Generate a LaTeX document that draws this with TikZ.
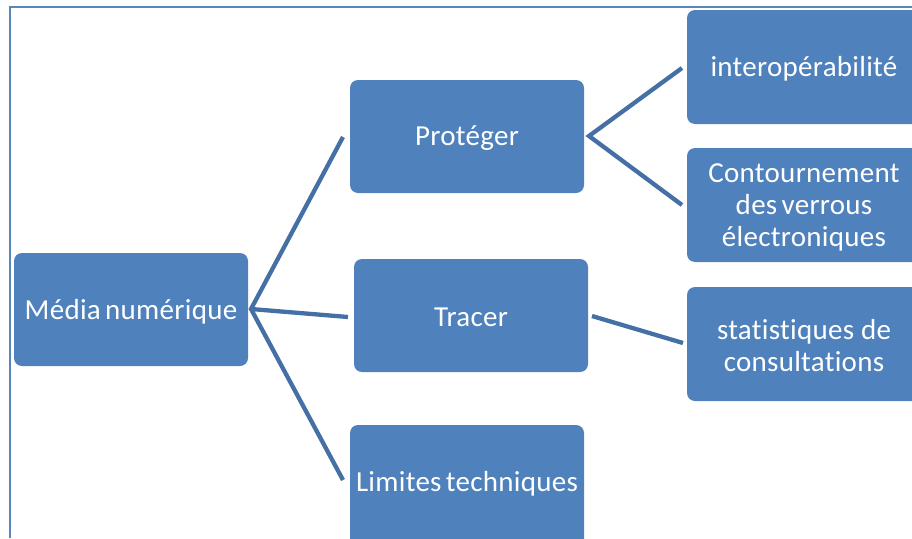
\documentclass[tikz,border=0pt]{standalone}
\usepackage{fontspec}
\setmainfont{Carlito}[Ligatures=NoCommon,LetterSpace=1]
\begin{document}
\definecolor{boxblue}{HTML}{4F81BD}
\definecolor{linkblue}{HTML}{4470A6}
\definecolor{frameblue}{HTML}{5B86BA}
\newcommand{\tightsp}{\spaceskip=0.15em plus 0.05em\relax}
\begin{tikzpicture}[x=1pt,y=-1pt,
  box/.style={draw=none,fill=boxblue,rounded corners=8pt},
  label/.style={text=white,align=center,inner sep=0pt,
    font=\fontsize{29}{32}\selectfont},
  link/.style={draw=linkblue,line width=4.3pt}]
\useasboundingbox (0,0) rectangle (912,538);
% frame
\draw[frameblue,line width=2pt] (10,538) -- (10,7) -- (912,7);
% boxes
\path[box] (14,253) rectangle (248,366);
\node[label] (media) at (131,311.5) {\tightsp Média numérique};
\coordinate (mediaR) at (251,309);
\path[box] (350,80) rectangle (584,193);
\node[label] (prot) at (467,138.5) {Protéger};
\path[box] (354,259) rectangle (588,372);
\node[label] (trac) at (471,317.5) {Tracer};
\path[box] (350,425) rectangle (584,548);
\node[label] (lim) at (467,484) {\tightsp Limites techniques};
\path[box] (687,10) rectangle (922,124);
\node[label] (inter) at (804,69) {interopérabilité};
\path[box] (687,148) rectangle (922,262);
\node[label] (cont) at (804,207) {Contournement\\{\tightsp des verrous}\\électroniques};
\path[box] (687,287) rectangle (922,401);
\node[label] (stat) at (804,346) {statistiques de\\consultations};
% connectors
\coordinate (a1) at (343,137);
\coordinate (a2) at (348,317);
\coordinate (a3) at (343,480);
\coordinate (p0) at (589,136);
\coordinate (p1) at (682,68);
\coordinate (p2) at (682,205);
\coordinate (t0) at (592,316);
\coordinate (t1) at (683,343);
\draw[link] (a1) -- (mediaR) -- (a3);
\draw[link] (mediaR) -- (a2);
\draw[link] (p1) -- (p0) -- (p2);
\draw[link] (t0) -- (t1);
\end{tikzpicture}
\end{document}
